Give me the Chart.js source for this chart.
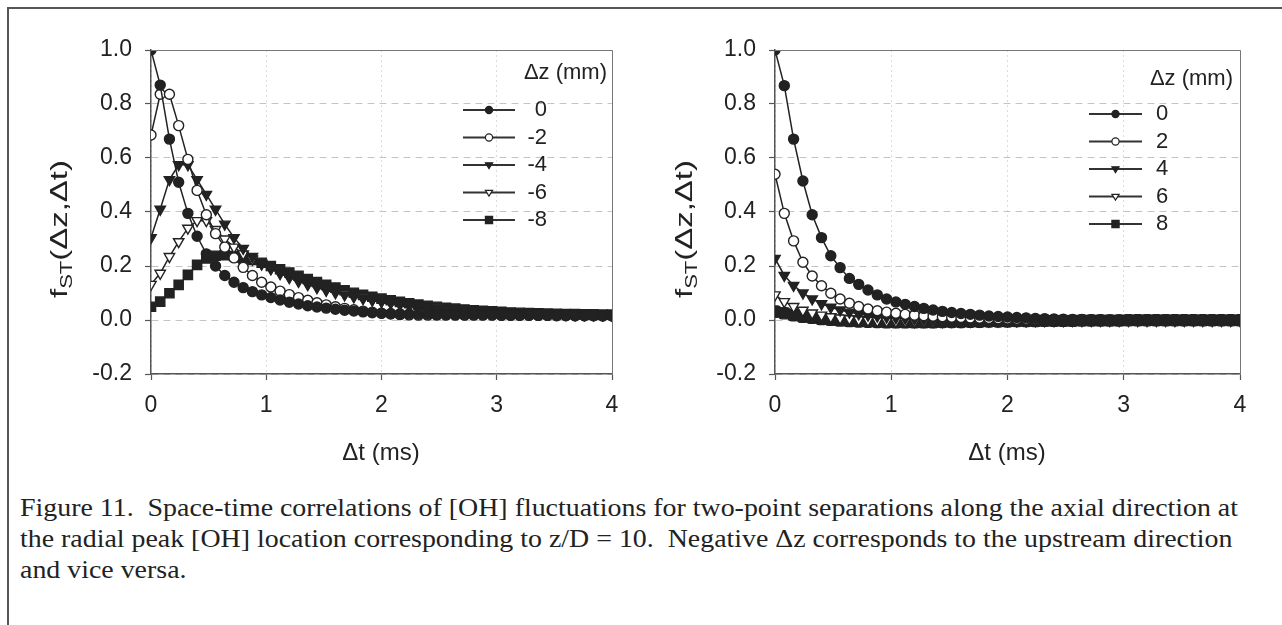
<!DOCTYPE html>
<html>
<head>
<meta charset="utf-8">
<script src="https://cdn.jsdelivr.net/npm/chart.js@4.4.1/dist/chart.umd.min.js"></script>
<style>
html, body { margin: 0; padding: 0; background: #fff; }
#page { position: relative; width: 1282px; height: 625px; overflow: hidden; }
#frame { position: absolute; left: 7px; top: 7px; width: 1300px; height: 700px;
         border-top: 2px solid #555; border-left: 2px solid #555; }
.box { position: absolute; top: 0; }
#caption { position: absolute; left: 20px; top: 492px; color: #222; white-space: nowrap; transform-origin: 0 0;
           font-family: "Liberation Serif", "Times New Roman", serif; font-size: 25px; line-height: 31px; }
</style>
</head>
<body>
<div id="page">
  <div id="frame"></div>
  <div class="box" style="left:0"><canvas id="left" width="640" height="480"></canvas></div>
  <div class="box" style="left:640px"><canvas id="right" width="642" height="480"></canvas></div>
  <div id="caption">
    <span id="cap1">Figure 11.&nbsp; Space-time correlations of [OH] fluctuations for two-point separations along the axial direction at</span><br>
    the radial peak [OH] location corresponding to z/D = 10.&nbsp; Negative Δz corresponds to the upstream direction<br>
    and vice versa.
  </div>
</div>
<script>
// time lags (ms)
const dt = [
  0.00, 0.08, 0.16, 0.24, 0.32, 0.40, 0.48, 0.56, 0.64, 0.72,
  0.80, 0.88, 0.96, 1.04, 1.12, 1.20, 1.28, 1.36, 1.44, 1.52,
  1.60, 1.68, 1.76, 1.84, 1.92, 2.00, 2.08, 2.16, 2.24, 2.32,
  2.40, 2.48, 2.56, 2.64, 2.72, 2.80, 2.88, 2.96, 3.04, 3.12,
  3.20, 3.28, 3.36, 3.44, 3.52, 3.60, 3.68, 3.76, 3.84, 3.92,
  4.00
];

// left panel: upstream separations
const leftLabels = ['0', '-2', '-4', '-6', '-8'];
const left0 = [
  1.00, 0.87, 0.67, 0.51, 0.395, 0.31, 0.245, 0.20, 0.165, 0.14,
  0.12, 0.105, 0.093, 0.083, 0.074, 0.066, 0.059, 0.053, 0.048, 0.044,
  0.040, 0.036, 0.033, 0.030, 0.027, 0.025, 0.024, 0.023, 0.022, 0.021,
  0.021, 0.020, 0.020, 0.020, 0.019, 0.019, 0.019, 0.019, 0.018, 0.018,
  0.018, 0.018, 0.017, 0.017, 0.017, 0.017, 0.016, 0.016, 0.016, 0.016,
  0.016
];
const leftM2 = [
  0.685, 0.836, 0.836, 0.72, 0.595, 0.48, 0.39, 0.32, 0.27, 0.23,
  0.195, 0.165, 0.14, 0.122, 0.107, 0.094, 0.083, 0.073, 0.064, 0.056,
  0.049, 0.043, 0.038, 0.033, 0.029, 0.025, 0.022, 0.020, 0.019, 0.018,
  0.018, 0.018, 0.018, 0.018, 0.018, 0.018, 0.018, 0.018, 0.017, 0.017,
  0.017, 0.017, 0.017, 0.017, 0.016, 0.016, 0.016, 0.016, 0.016, 0.015,
  0.015
];
const leftM4 = [
  0.305, 0.41, 0.52, 0.575, 0.575, 0.52, 0.465, 0.41, 0.355, 0.305,
  0.265, 0.235, 0.21, 0.19, 0.172, 0.157, 0.143, 0.131, 0.12, 0.11,
  0.101, 0.093, 0.086, 0.079, 0.073, 0.068, 0.063, 0.058, 0.054, 0.050,
  0.047, 0.044, 0.041, 0.038, 0.036, 0.034, 0.032, 0.030, 0.029, 0.027,
  0.026, 0.025, 0.024, 0.023, 0.022, 0.021, 0.021, 0.020, 0.020, 0.019,
  0.019
];
const leftM6 = [
  0.132, 0.173, 0.235, 0.29, 0.34, 0.368, 0.368, 0.335, 0.30, 0.27,
  0.245, 0.225, 0.207, 0.19, 0.175, 0.16, 0.147, 0.135, 0.124, 0.114,
  0.105, 0.097, 0.089, 0.082, 0.076, 0.070, 0.065, 0.060, 0.056, 0.052,
  0.048, 0.045, 0.042, 0.039, 0.037, 0.035, 0.033, 0.031, 0.029, 0.028,
  0.027, 0.026, 0.025, 0.024, 0.023, 0.022, 0.021, 0.021, 0.020, 0.020,
  0.019
];
const leftM8 = [
  0.049, 0.068, 0.099, 0.13, 0.167, 0.204, 0.228, 0.238, 0.24, 0.237,
  0.23, 0.222, 0.212, 0.20, 0.188, 0.176, 0.164, 0.152, 0.141, 0.13,
  0.12, 0.11, 0.101, 0.093, 0.086, 0.079, 0.073, 0.067, 0.062, 0.057,
  0.053, 0.049, 0.045, 0.042, 0.039, 0.036, 0.034, 0.032, 0.030, 0.028,
  0.027, 0.026, 0.025, 0.024, 0.023, 0.022, 0.022, 0.021, 0.021, 0.020,
  0.020
];

// right panel: downstream separations
const rightLabels = ['0', '2', '4', '6', '8'];
const right0 = [
  1.00, 0.868, 0.67, 0.515, 0.39, 0.305, 0.238, 0.194, 0.154, 0.132,
  0.111, 0.093, 0.078, 0.067, 0.058, 0.050, 0.043, 0.037, 0.032, 0.028,
  0.024, 0.021, 0.018, 0.015, 0.013, 0.011, 0.009, 0.008, 0.006, 0.005,
  0.004, 0.003, 0.002, 0.002, 0.001, 0.001, 0.000, 0.000, 0.000, 0.000,
  0.000, -0.001, -0.001, 0.000, 0.000, -0.001, 0.000, 0.000, -0.001, 0.000,
  0.000
];
const right2 = [
  0.54, 0.395, 0.293, 0.214, 0.163, 0.127, 0.099, 0.078, 0.062, 0.05,
  0.041, 0.034, 0.029, 0.025, 0.021, 0.018, 0.016, 0.014, 0.012, 0.010,
  0.009, 0.008, 0.007, 0.006, 0.005, 0.004, 0.003, 0.003, 0.002, 0.002,
  0.001, 0.001, 0.000, 0.000, 0.000, 0.000, -0.001, -0.001, 0.000, 0.000,
  -0.001, -0.001, 0.000, 0.000, -0.001, 0.000, 0.000, -0.001, 0.000, 0.000,
  -0.001
];
const right4 = [
  0.228, 0.165, 0.128, 0.10, 0.078, 0.06, 0.047, 0.037, 0.029, 0.023,
  0.018, 0.014, 0.011, 0.008, 0.006, 0.004, 0.003, 0.002, 0.001, 0.000,
  -0.001, -0.001, -0.002, -0.002, -0.002, -0.002, -0.002, -0.002, -0.001, -0.001,
  -0.001, -0.001, -0.001, -0.001, -0.001, -0.001, -0.001, -0.001, -0.001, -0.001,
  -0.001, -0.001, -0.001, -0.001, -0.001, -0.001, -0.001, -0.001, -0.001, -0.001,
  -0.001
];
const right6 = [
  0.093, 0.068, 0.05, 0.036, 0.026, 0.018, 0.012, 0.007, 0.004, 0.001,
  -0.001, -0.003, -0.004, -0.005, -0.005, -0.006, -0.006, -0.006, -0.006, -0.005,
  -0.005, -0.005, -0.004, -0.004, -0.004, -0.003, -0.003, -0.003, -0.002, -0.002,
  -0.002, -0.002, -0.001, -0.001, -0.001, -0.001, -0.001, -0.001, -0.001, -0.001,
  -0.001, -0.001, -0.001, -0.001, -0.001, -0.001, -0.001, -0.001, -0.001, -0.001,
  -0.001
];
const right8 = [
  0.031, 0.025, 0.018, 0.012, 0.008, 0.004, 0.001, -0.002, -0.004, -0.005,
  -0.006, -0.007, -0.008, -0.008, -0.008, -0.008, -0.008, -0.008, -0.007, -0.007,
  -0.007, -0.006, -0.006, -0.005, -0.005, -0.005, -0.004, -0.004, -0.004, -0.003,
  -0.003, -0.003, -0.003, -0.002, -0.002, -0.002, -0.002, -0.002, -0.001, -0.001,
  -0.001, -0.001, -0.001, -0.001, -0.001, -0.001, -0.001, -0.001, -0.001, -0.001,
  -0.001
];

const xTicks = [0, 1, 2, 3, 4];
const yTicks = [-0.2, 0.0, 0.2, 0.4, 0.6, 0.8, 1.0];

const FONT = '"Liberation Sans", Arial, sans-serif';
const INK = '#222';
const markers = ['circle', 'circle', 'triangle', 'triangle', 'rect'];
const filled = [true, false, true, false, true];
const radii = [5, 5, 6, 6, 6.5];

function buildDatasets(labels, series, rectStyle) {
  return series.map((vals, i) => ({
    label: labels[i],
    data: vals.map((v, k) => ({ x: dt[k], y: v })),
    borderColor: INK,
    borderWidth: 1.5,
    pointStyle: markers[i] === 'rect' ? rectStyle : markers[i],
    pointRotation: markers[i] === 'triangle' ? 180 : 0,
    pointRadius: radii[i],
    pointBackgroundColor: filled[i] ? INK : '#fff',
    pointBorderColor: INK,
    pointBorderWidth: 1.4,
    tension: 0
  }));
}

function legendMarker(ctx, style, x, y, r, isFilled) {
  ctx.beginPath();
  if (style === 'circle') {
    ctx.arc(x, y, r, 0, Math.PI * 2);
  } else if (style === 'triangle') {
    ctx.moveTo(x - r, y - r * 0.6);
    ctx.lineTo(x + r, y - r * 0.6);
    ctx.lineTo(x, y + r);
    ctx.closePath();
  } else {
    ctx.rect(x - r, y - r, r * 2, r * 2);
  }
  ctx.fillStyle = isFilled ? INK : '#fff';
  ctx.fill();
  ctx.strokeStyle = INK;
  ctx.lineWidth = 1.2;
  ctx.stroke();
}

// axis titles, plot frame and legend drawn on top of the chart
const figurePlugin = {
  id: 'figure',
  afterDraw(chart, args, o) {
    const ctx = chart.ctx, a = chart.chartArea;
    ctx.save();

    ctx.strokeStyle = '#777';
    ctx.lineWidth = 1;
    ctx.beginPath();
    ctx.moveTo(a.left, a.top + 0.5);
    ctx.lineTo(a.right + 0.5, a.top + 0.5);
    ctx.lineTo(a.right + 0.5, a.bottom);
    ctx.stroke();

    ctx.fillStyle = INK;
    ctx.textBaseline = 'middle';

    // x title
    ctx.font = o.titleSize + 'px ' + FONT;
    ctx.textAlign = 'center';
    ctx.fillText('Δt (ms)', o.xTitleX, o.xTitleY);

    // y title with subscript, stretched along its length as in the scan
    ctx.save();
    ctx.textAlign = 'left';
    const big = o.titleSize + 'px ' + FONT;
    const small = Math.round(o.titleSize * 0.65) + 'px ' + FONT;
    ctx.font = big;
    const w1 = ctx.measureText('f').width;
    const w3 = ctx.measureText('(Δz,Δt)').width;
    ctx.font = small;
    const w2 = ctx.measureText('ST').width;
    const total = w1 + w2 + w3;
    ctx.translate(o.yTitleX, o.yTitleY);
    ctx.rotate(-Math.PI / 2);
    ctx.scale(o.yTitleLength / total, 1);
    let x = -total / 2;
    ctx.font = big; ctx.fillText('f', x, 0); x += w1;
    ctx.font = small; ctx.fillText('ST', x, o.titleSize * 0.3); x += w2;
    ctx.font = big; ctx.fillText('(Δz,Δt)', x, 0);
    ctx.restore();

    // legend
    const L = o.legend;
    ctx.font = o.legendSize + 'px ' + FONT;
    ctx.textAlign = 'right';
    ctx.fillText('Δz (mm)', L.titleRight, L.titleY);
    chart.data.datasets.forEach((ds, i) => {
      const y = L.y0 + i * L.dy;
      ctx.strokeStyle = '#333';
      ctx.lineWidth = 2;
      ctx.beginPath();
      ctx.moveTo(L.x1, y);
      ctx.lineTo(L.x2, y);
      ctx.stroke();
      legendMarker(ctx, markers[i], (L.x1 + L.x2) / 2, y, 3.6, filled[i]);
      ctx.fillStyle = INK;
      ctx.textAlign = L.labelAlign;
      ctx.fillText(ds.label, L.labelX, y);
    });
    ctx.restore();
  }
};

function makeOptions(cfg) {
  const tickFont = { family: FONT, size: cfg.tickSize };
  return {
    responsive: false,
    animation: false,
    events: [],
    layout: { padding: { left: 0, top: cfg.top, right: cfg.right, bottom: 0 } },
    plugins: { legend: { display: false }, tooltip: { enabled: false }, figure: cfg },
    scales: {
      x: {
        type: 'linear', min: xTicks[0], max: xTicks[xTicks.length - 1],
        afterFit: s => { s.height = cfg.xHeight; },
        afterBuildTicks: s => { s.ticks = xTicks.map(v => ({ value: v })); },
        ticks: { color: INK, font: tickFont, padding: 12, maxRotation: 0, callback: v => String(v) },
        grid: { color: '#dcdcdc', lineWidth: 1, tickLength: 6, tickColor: '#555', tickWidth: 1.2, tickBorderDash: [] },
        border: { color: '#555', width: 1.5, dash: [2, 3] }
      },
      y: {
        min: yTicks[0], max: yTicks[yTicks.length - 1],
        afterFit: s => { s.width = cfg.yWidth; },
        afterBuildTicks: s => { s.ticks = yTicks.map(v => ({ value: v })); },
        ticks: { color: INK, font: tickFont, padding: 13, callback: v => (Math.abs(v) < 1e-9 ? 0 : v).toFixed(1) },
        grid: { color: '#c4c4c4', lineWidth: 1, tickLength: 6, tickColor: '#555', tickWidth: 1.2, tickBorderDash: [] },
        border: { color: '#555', width: 1.5, dash: [7, 5] }
      }
    }
  };
}

new Chart(document.getElementById('left'), {
  type: 'line',
  data: { datasets: buildDatasets(leftLabels, [left0, leftM2, leftM4, leftM6, leftM8], 'rect') },
  options: makeOptions({
    top: 50, right: 28, yWidth: 151, xHeight: 106, tickSize: 23,
    titleSize: 24, legendSize: 22, yTitleLength: 138,
    xTitleX: 381, xTitleY: 453, yTitleX: 60, yTitleY: 229,
    legend: { titleRight: 607, titleY: 73, x1: 463, x2: 515, labelX: 547, labelAlign: 'right', y0: 110, dy: 27.5 }
  }),
  plugins: [figurePlugin]
});

new Chart(document.getElementById('right'), {
  type: 'line',
  data: { datasets: buildDatasets(rightLabels, [right0, right2, right4, right6, right8], 'rectRounded') },
  options: makeOptions({
    top: 50, right: 42, yWidth: 135, xHeight: 106, tickSize: 23,
    titleSize: 24, legendSize: 22, yTitleLength: 138,
    xTitleX: 367, xTitleY: 453, yTitleX: 45, yTitleY: 229,
    legend: { titleRight: 593, titleY: 79, x1: 449, x2: 502, labelX: 516, labelAlign: 'left', y0: 114, dy: 27.5 }
  }),
  plugins: [figurePlugin]
});

// the scanned caption is a little wider than the font's natural width
const cap = document.getElementById('caption');
const capWidth = document.getElementById('cap1').getBoundingClientRect().width;
cap.style.transform = 'scaleX(' + (1218 / capWidth) + ')';
</script>
</body>
</html>
